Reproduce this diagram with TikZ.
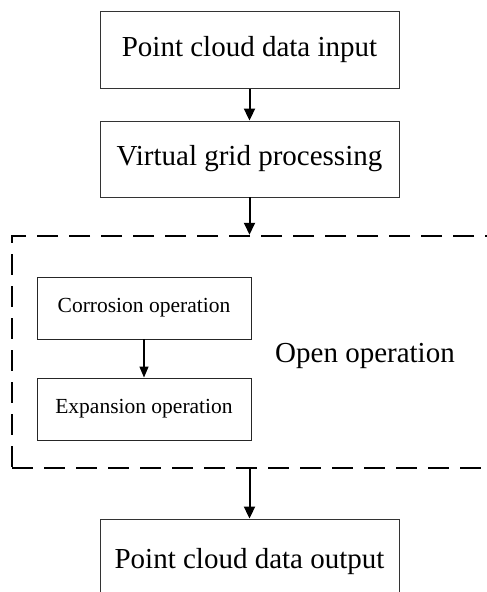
\documentclass[tikz,border=0pt]{standalone}
\usepackage{fontspec}
\setmainfont{Liberation Serif}
\usetikzlibrary{arrows.meta}
\begin{document}
\begin{tikzpicture}[x=1pt,y=-1pt,
  bigbox/.style={draw=black!80,line width=0.9pt,minimum width=299pt,inner sep=0pt,font=\fontsize{29}{34}\selectfont},
  smallbox/.style={draw=black!85,line width=0.9pt,minimum width=214pt,minimum height=62pt,inner sep=0pt,font=\fontsize{21.5}{25}\selectfont},
  bigarrow/.style={line width=2pt,-{Triangle[length=12pt,width=11pt]}},
  smallarrow/.style={line width=1.3pt,-{Triangle[length=11pt,width=9pt]}},
  dashbox/.style={draw=black,line width=2.5pt,dash pattern=on 21pt off 11pt,inner sep=0pt}]
\useasboundingbox (0,0) rectangle (487,592);
\fill[white] (0,0) rectangle (487,592);
\node[bigbox,minimum height=77pt] (in) at (249.5,50) {Point cloud data input};
\node[bigbox,minimum height=76pt] (grid) at (249.5,159) {Virtual grid processing};
\node[dashbox,minimum width=483pt,minimum height=232pt] (open) at (253.5,352) {};
\node[smallbox] (cor) at (144,308) {Corrosion operation};
\node[smallbox] (exp) at (144,409) {Expansion operation};
\node[font=\fontsize{29}{34}\selectfont,inner sep=0pt] (lab) at (365,356) {Open operation};
\node[bigbox,minimum height=86pt] (out) at (249.5,562) {Point cloud data output};
\draw[bigarrow] (in.south) -- (grid.north);
\draw[bigarrow] (grid.south) -- (grid.south |- open.north);
\draw[smallarrow] (cor.south) -- (exp.north);
\draw[bigarrow] (out.north |- open.south) -- (out.north);
\end{tikzpicture}
\end{document}
